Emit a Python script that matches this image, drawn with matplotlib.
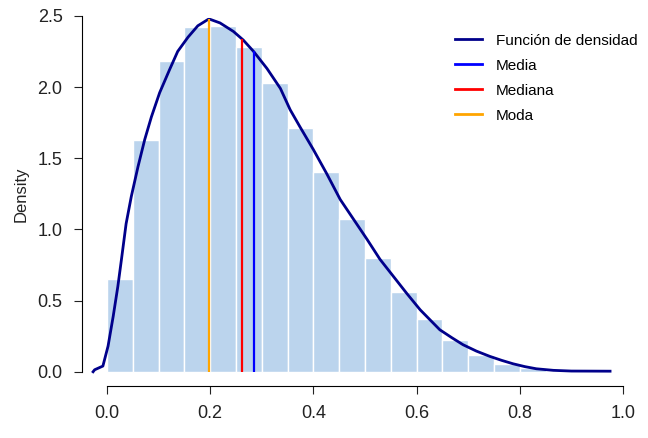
import numpy as np
import matplotlib.pyplot as plt
from matplotlib.lines import Line2D

# histogram bins (left edges) and densities
bin_left = [0.00, 0.05, 0.10, 0.15, 0.20, 0.25, 0.30, 0.35, 0.40, 0.45,
            0.50, 0.55, 0.60, 0.65, 0.70, 0.75, 0.80]
bin_density = [0.65, 1.63, 2.18, 2.42, 2.43, 2.28, 2.03, 1.71, 1.40, 1.07,
               0.80, 0.56, 0.37, 0.225, 0.12, 0.055, 0.025]
bin_width = 0.05

# kernel density curve
dens_x = [-0.027, -0.024, -0.008, 0.002, 0.012, 0.021, 0.028, 0.037, 0.047, 0.060,
          0.073, 0.086, 0.102, 0.121, 0.137, 0.157, 0.176, 0.196, 0.200, 0.219,
          0.245, 0.264, 0.284, 0.310, 0.336, 0.355, 0.374, 0.400, 0.426, 0.452,
          0.478, 0.504, 0.529, 0.555, 0.581, 0.607, 0.626, 0.645, 0.668, 0.690,
          0.716, 0.742, 0.765, 0.787, 0.810, 0.832, 0.865, 0.900, 0.975]
dens_y = [0.0, 0.014, 0.04, 0.18, 0.39, 0.60, 0.79, 1.04, 1.23, 1.44,
          1.63, 1.79, 1.96, 2.12, 2.25, 2.35, 2.43, 2.475, 2.475, 2.45,
          2.39, 2.33, 2.25, 2.13, 1.99, 1.84, 1.72, 1.56, 1.39, 1.21,
          1.07, 0.93, 0.79, 0.67, 0.55, 0.435, 0.365, 0.295, 0.24, 0.19,
          0.145, 0.108, 0.08, 0.056, 0.036, 0.021, 0.01, 0.005, 0.004]

media, media_h = 0.284, 2.25
mediana, mediana_h = 0.262, 2.34
moda, moda_h = 0.198, 2.48

labels = ["Función de densidad", "Media", "Mediana", "Moda"]

plt.rcParams['font.family'] = ['Liberation Sans Narrow', 'Liberation Sans', 'DejaVu Sans']

fig = plt.figure(figsize=(6.48, 4.38), dpi=100)
ax = fig.add_axes([82 / 648, 52 / 438, 561.6 / 648, 384 / 438])

ax.bar(bin_left, bin_density, width=bin_width, align='edge',
       color='#bbd4ed', edgecolor='white', linewidth=1)
ax.plot(dens_x, dens_y, color='#00008b', lw=2)
ax.vlines(media, 0, media_h, color='blue', lw=1.6)
ax.vlines(mediana, 0, mediana_h, color='red', lw=1.6)
ax.vlines(moda, 0, moda_h, color='orange', lw=1.6)

ax.set_xlim(-0.0485, 1.04)
ax.set_ylim(-0.1, 2.597)
ax.set_xticks(np.arange(0, 1.01, 0.2))
ax.set_yticks(np.arange(0, 2.51, 0.5))
ax.set_xticklabels(['{:.1f}'.format(v) for v in np.arange(0, 1.01, 0.2)])
ax.set_yticklabels(['{:.1f}'.format(v) for v in np.arange(0, 2.51, 0.5)])
ax.spines['top'].set_visible(False)
ax.spines['right'].set_visible(False)
ax.spines['bottom'].set_bounds(0, 1)
ax.spines['left'].set_bounds(0, 2.5)
ax.tick_params(labelsize=13, length=6, pad=8, colors='#222222')
ax.set_ylabel('Density', fontsize=12, color='#222222', labelpad=6)

handles = [Line2D([], [], color=c, lw=2) for c in ['#00008b', 'blue', 'red', 'orange']]
ax.legend(handles, labels, frameon=False, loc='upper left',
          bbox_to_anchor=(441 / 648, 1 - 20 / 438), bbox_transform=fig.transFigure,
          fontsize=11, handlelength=1.8, handletextpad=0.9, labelspacing=0.72)

fig.savefig('out.png', dpi=100)
